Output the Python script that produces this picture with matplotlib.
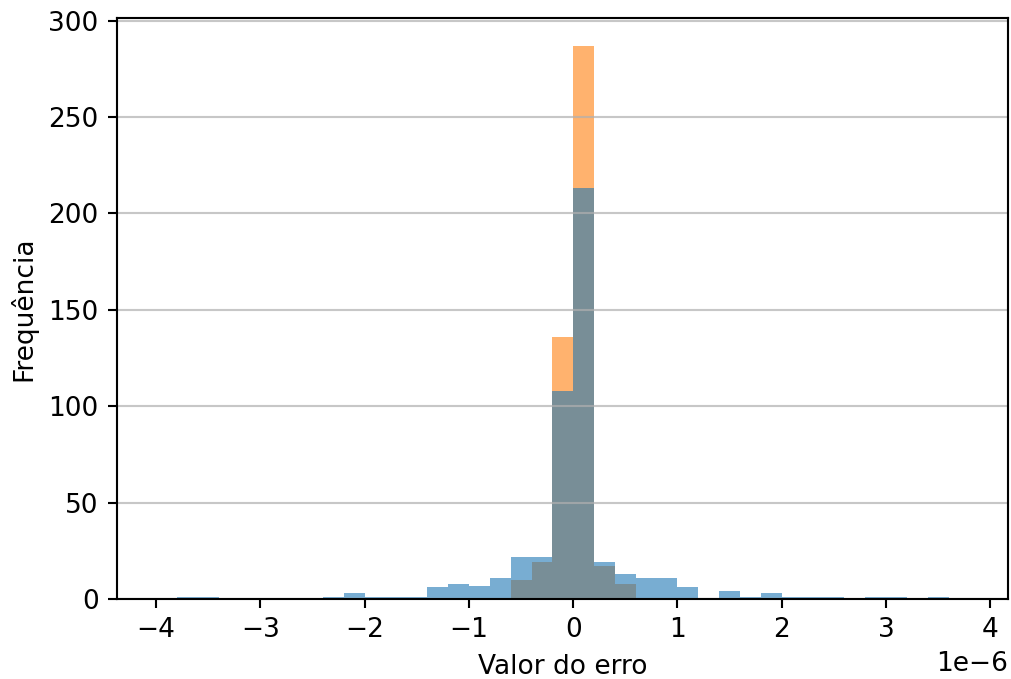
# -*- coding: utf-8 -*-
import matplotlib.pyplot as plt
import numpy as np

# Histogramas dos erros (contagens lidas por classe, largura 0.2e-6)
bordas = np.round(np.arange(-3.8, 3.6 + 0.1, 0.2), 1) * 1e-6
contagens_azul = [1, 1, 0, 0, 0, 0, 0, 1, 3, 1, 1, 1, 6, 8, 7, 11, 22, 22,
                  108, 213, 19, 13, 11, 11, 6, 0, 4, 1, 3, 1, 1, 1, 0, 1, 1, 0, 1]
contagens_laranja = [0] * 16 + [10, 19, 136, 287, 17, 8] + [0] * 15

DPI = 190


def plot_histograma():
    """ Histogramas sobrepostos """
    centros = (bordas[:-1] + bordas[1:]) / 2

    fig = plt.figure(figsize=(1011 / DPI, 679 / DPI), dpi=DPI)
    ax = fig.add_axes([0.1157, 0.1178, 0.8813, 0.8557])

    ax.hist(centros, bins=bordas, weights=contagens_laranja, color="C1", alpha=0.6)
    ax.hist(centros, bins=bordas, weights=contagens_azul, color="C0", alpha=0.6)

    ax.set_xlim(-4.376e-6, 4.17e-6)
    ax.grid(axis="y", alpha=0.7)
    ax.set_xlabel("Valor do erro")
    ax.set_ylabel("Frequência")

    fig.savefig("out.png", dpi=DPI)


if __name__ == "__main__":
    plot_histograma()
